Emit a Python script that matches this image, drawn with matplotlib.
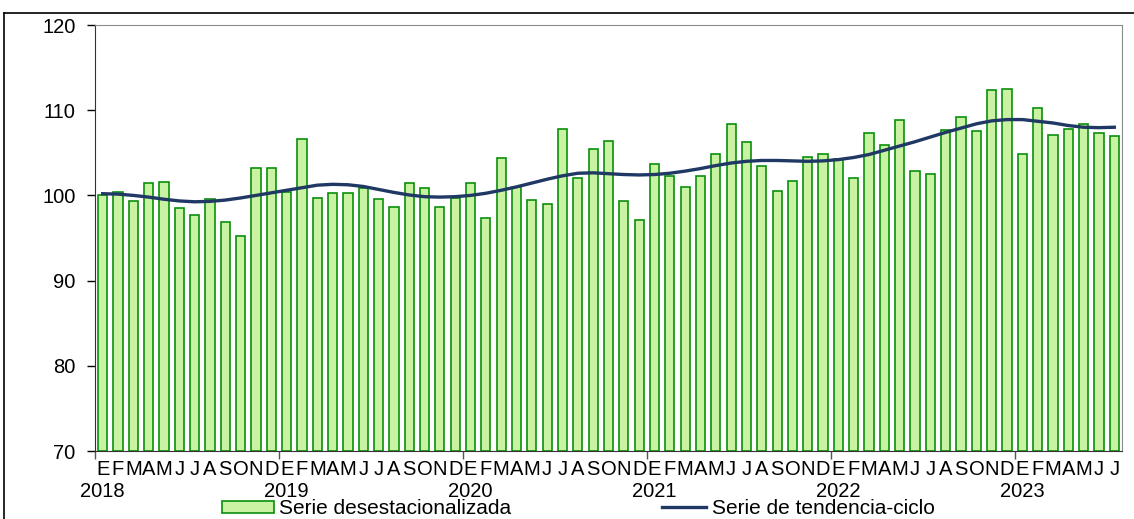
"""
Serie desestacionalizada y serie de tendencia-ciclo, 2018-2023.
Barras mensuales con la linea de tendencia superpuesta.
"""

import matplotlib.pyplot as plt
from matplotlib.lines import Line2D
from matplotlib.patches import Patch

plt.rcParams["font.family"] = ["Liberation Sans", "DejaVu Sans"]

YEARS = ["2018", "2019", "2020", "2021", "2022", "2023"]
MONTHS = ["E", "F", "M", "A", "M", "J", "J", "A", "S", "O", "N", "D"]

# Serie desestacionalizada (ene 2018 - jul 2023)
desestacionalizada = [
    100.1, 100.4, 99.3, 101.4, 101.6, 98.5, 97.7, 99.6, 96.9, 95.2, 103.2, 103.2,
    100.4, 106.65, 99.7, 100.3, 100.3, 100.9, 99.6, 98.6, 101.5, 100.9, 98.6, 99.7,
    101.4, 97.4, 104.4, 101.0, 99.5, 99.0, 107.8, 102.1, 105.5, 106.4, 99.4, 97.1,
    103.7, 102.3, 101.0, 102.3, 104.85, 108.4, 106.3, 103.5, 100.55, 101.7, 104.5, 104.85,
    104.3, 102.1, 107.3, 105.95, 108.9, 102.9, 102.55, 107.7, 109.2, 107.6, 112.4, 112.5,
    104.85, 110.3, 107.1, 107.8, 108.4, 107.3, 107.0,
]

# Serie de tendencia-ciclo
tendencia = [
    100.2, 100.15, 100.0, 99.8, 99.55, 99.35, 99.25, 99.3, 99.45, 99.7, 100.0, 100.3,
    100.6, 100.9, 101.2, 101.3, 101.25, 101.05, 100.7, 100.35, 100.05, 99.85, 99.8, 99.85,
    100.0, 100.25, 100.6, 101.0, 101.45, 101.9, 102.3, 102.6, 102.65, 102.55, 102.45, 102.4,
    102.45, 102.6, 102.85, 103.15, 103.5, 103.8, 104.0, 104.1, 104.1, 104.05, 104.0, 104.05,
    104.2, 104.45, 104.8, 105.3, 105.8, 106.3, 106.85, 107.4, 107.9, 108.4, 108.75, 108.9,
    108.9, 108.7, 108.5, 108.2, 108.0, 107.95, 108.0,
]

BAR_FILL = "#c9f2a2"
BAR_EDGE = "#0a8f0a"
LINE_COLOR = "#1f3864"

n = len(desestacionalizada)
x = list(range(n))

fig = plt.figure(figsize=(11.34, 5.19), dpi=100)
ax = fig.add_axes([95 / 1134, 1 - 451 / 519, (1122 - 95) / 1134, (451 - 25) / 519])

ax.bar(x, [v - 70 for v in desestacionalizada], bottom=70, width=0.6,
       color=BAR_FILL, edgecolor=BAR_EDGE, linewidth=1.2, zorder=2)
ax.plot(x, tendencia, color=LINE_COLOR, linewidth=2.4, zorder=3)

ax.set_xlim(-0.5, n - 0.5)
ax.set_ylim(70, 120)
ax.set_yticks([70, 80, 90, 100, 110, 120])
ax.tick_params(axis="y", labelsize=14.5, length=6, width=1, direction="out", pad=8)

# Marcas de anio en los limites y letras de mes bajo cada barra
ax.set_xticks([-0.5 + 12 * i for i in range(len(YEARS))])
ax.set_xticklabels([])
ax.tick_params(axis="x", length=6, width=1, direction="out", color="#555555")
for i in x:
    ax.text(i, -0.02, MONTHS[i % 12], transform=ax.get_xaxis_transform(),
            ha="center", va="top", fontsize=14.5)
for k, year in enumerate(YEARS):
    ax.text(12 * k, -0.072, year, transform=ax.get_xaxis_transform(),
            ha="center", va="top", fontsize=14.5)

for side in ["top", "right"]:
    ax.spines[side].set_color("#8c8c8c")
ax.spines["left"].set_color("#333333")
ax.spines["bottom"].set_color("#333333")

# Leyendas debajo del grafico
fig.legend(handles=[Patch(facecolor=BAR_FILL, edgecolor=BAR_EDGE, linewidth=1.2)],
           labels=["Serie desestacionalizada"], loc="center left",
           bbox_to_anchor=(222 / 1134, 1 - 509 / 519), frameon=False,
           fontsize=15, handlelength=2.5, handleheight=0.5, handletextpad=0.25,
           borderaxespad=0, borderpad=0)
fig.legend(handles=[Line2D([0], [0], color=LINE_COLOR, linewidth=2.4)],
           labels=["Serie de tendencia-ciclo"], loc="center left",
           bbox_to_anchor=(662 / 1134, 1 - 509 / 519), frameon=False,
           fontsize=15, handlelength=2.1, handletextpad=0.3,
           borderaxespad=0, borderpad=0)

# Marco exterior del grafico (recortado en la imagen original)
fig.add_artist(Line2D([4 / 1134, 1], [1 - 13 / 519, 1 - 13 / 519], color="black", linewidth=1.2))
fig.add_artist(Line2D([4 / 1134, 4 / 1134], [0, 1 - 13 / 519], color="black", linewidth=1.2))

fig.savefig("out.png", dpi=100)
